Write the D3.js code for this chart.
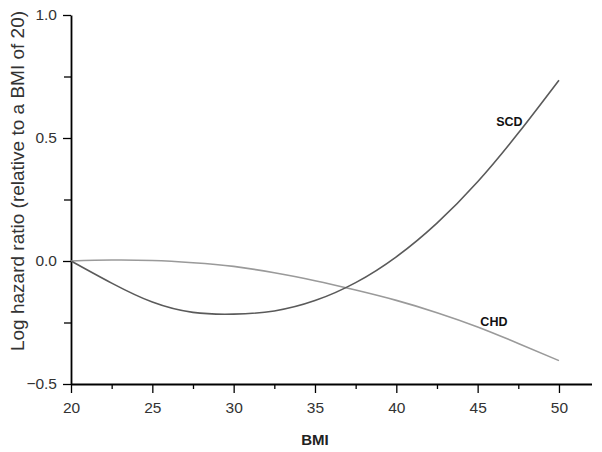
<!DOCTYPE html>
<html>
<head>
<meta charset="utf-8">
<script src="https://cdn.jsdelivr.net/npm/d3@7"></script>
<style>
  body { margin: 0; background: #fff; }
  text { font-family: "Liberation Sans", Arial, sans-serif; }
</style>
</head>
<body>
<div id="chart"></div>
<script>
var width = 602, height = 452;

// BMI grid and log hazard ratios
var bmi = [20, 22.5, 25, 27.5, 30, 32.5, 35, 37.5, 40, 42.5, 45, 47.5, 50];
var scd = [0, -0.09, -0.167, -0.209, -0.216, -0.203, -0.161, -0.088, 0.017, 0.154, 0.322, 0.52, 0.735];
var chd = [0, 0.004, 0.002, -0.007, -0.022, -0.048, -0.08, -0.118, -0.16, -0.21, -0.268, -0.335, -0.405];

var xTicks = [20, 25, 30, 35, 40, 45, 50];
var xMinor = [22.5, 27.5, 32.5, 37.5, 42.5, 47.5];
var yTicks = [-0.5, 0.0, 0.5, 1.0];
var yMinor = [-0.25, 0.25, 0.75];

// curve labels (BMI, value at text baseline)
var labelNames = ["SCD", "CHD"];
var labelBmi = [46.95, 46.0];
var labelVal = [0.548, -0.265];

var svg = d3.select("#chart")
    .append("svg")
    .attr("width", width)
    .attr("height", height);

var x = d3.scaleLinear()
    .domain([20, 52])
    .range([71, 591.5]);

var y = d3.scaleLinear()
    .domain([-0.5, 1.0])
    .range([384, 15]);

// minor ticks first, majors drawn over them
svg.append("g")
    .attr("transform", "translate(0,384)")
    .call(d3.axisBottom(x).tickValues(xMinor).tickSize(5).tickFormat(""))
    .call(function (g) { g.select(".domain").remove(); })
    .selectAll("line").attr("stroke-width", 1.3);

svg.append("g")
    .attr("transform", "translate(71,0)")
    .call(d3.axisLeft(y).tickValues(yMinor).tickSize(7).tickFormat(""))
    .call(function (g) { g.select(".domain").remove(); })
    .selectAll("line").attr("stroke-width", 1.3);

var xAxis = svg.append("g")
    .attr("transform", "translate(0,384)")
    .call(d3.axisBottom(x).tickValues(xTicks).tickSize(9).tickSizeOuter(0).tickPadding(9));

var yAxis = svg.append("g")
    .attr("transform", "translate(71,0)")
    .call(d3.axisLeft(y).tickValues(yTicks).tickSize(8).tickSizeOuter(0).tickPadding(6)
        .tickFormat(d3.format(".1f")));

[xAxis, yAxis].forEach(function (g) {
    g.select(".domain").attr("stroke-width", 1.8);
    g.selectAll(".tick line").attr("stroke-width", 1.3);
    g.selectAll("text")
        .style("font-family", "'Liberation Sans', Arial, sans-serif")
        .style("font-size", "15.5px")
        .attr("fill", "#333");
});

// the two hazard curves
var line = d3.line()
    .x(function (d) { return x(d[0]); })
    .y(function (d) { return y(d[1]); })
    .curve(d3.curveNatural);

svg.append("path")
    .datum(d3.zip(bmi, chd))
    .attr("d", line)
    .attr("fill", "none")
    .attr("stroke", "#9a9a9a")
    .attr("stroke-width", 1.6);

svg.append("path")
    .datum(d3.zip(bmi, scd))
    .attr("d", line)
    .attr("fill", "none")
    .attr("stroke", "#5a5a5a")
    .attr("stroke-width", 1.6);

svg.selectAll(".curve-label")
    .data(labelNames)
    .enter()
    .append("text")
    .attr("class", "curve-label")
    .attr("x", function (d, i) { return x(labelBmi[i]); })
    .attr("y", function (d, i) { return y(labelVal[i]); })
    .attr("text-anchor", "middle")
    .style("font-size", "12.5px")
    .style("font-weight", "bold")
    .attr("fill", "#111")
    .text(function (d) { return d; });

// axis titles
svg.append("text")
    .attr("x", x(35))
    .attr("y", 445)
    .attr("text-anchor", "middle")
    .style("font-size", "15px")
    .style("font-weight", "bold")
    .attr("fill", "#222")
    .text("BMI");

svg.append("text")
    .attr("transform", "translate(24,181) rotate(-90)")
    .attr("text-anchor", "middle")
    .style("font-size", "19px")
    .attr("fill", "#333")
    .text("Log hazard ratio (relative to a BMI of 20)");
</script>
</body>
</html>
